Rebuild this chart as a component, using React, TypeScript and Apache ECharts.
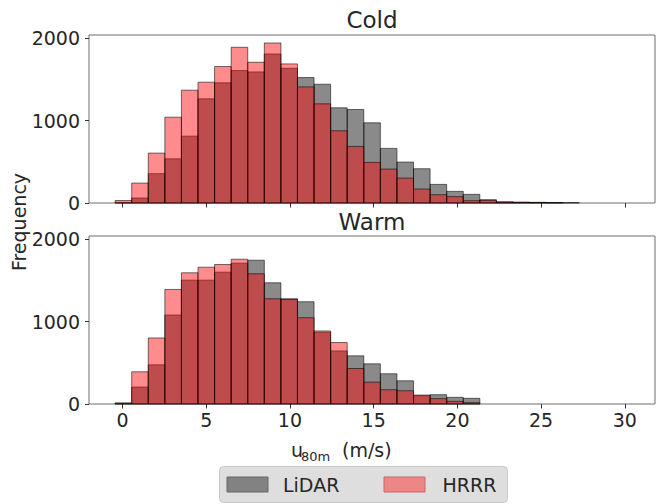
import { useEffect, useRef } from 'react';
import * as echarts from 'echarts';

// Histogram bins (m/s): left edge of first bin and bin width
const BIN_START = -0.44;
const BIN_WIDTH = 0.99;

// Counts per bin
const coldLidar = [5, 61, 356, 537, 812, 1265, 1459, 1608, 1592, 1810, 1636, 1523, 1442, 1156, 1135, 974, 663, 497, 416, 226, 141, 105, 40, 15, 10, 8, 6, 4];
const coldHrrr = [30, 242, 606, 1042, 1370, 1467, 1657, 1891, 1709, 1943, 1689, 1410, 1204, 877, 687, 493, 412, 303, 170, 101, 77, 28, 32, 10, 8, 6, 4];
const warmLidar = [10, 206, 476, 1081, 1504, 1504, 1601, 1710, 1746, 1472, 1278, 1242, 871, 645, 585, 488, 367, 282, 101, 113, 81, 69];
const warmHrrr = [12, 391, 802, 1391, 1593, 1661, 1694, 1758, 1581, 1278, 1270, 1048, 887, 746, 431, 266, 173, 161, 109, 65, 32, 16];

const xTicks = [0, 5, 10, 15, 20, 25, 30];
const yTicks = [0, 1000, 2000];
const panelTitles = ['Cold', 'Warm'];
const seriesNames = ['LiDAR', 'HRRR'];

const FONT = '"DejaVu Sans", sans-serif';
const TEXT = '#262626';
const LIDAR_FILL = 'rgba(0,0,0,0.46)';
const HRRR_FILL = 'rgba(255,0,0,0.45)';
const EDGE = 'rgba(0,0,0,0.55)';

function toBins(values: number[]) {
  return values.map((v, i) => [BIN_START + i * BIN_WIDTH, BIN_START + (i + 1) * BIN_WIDTH, v]);
}

function histSeries(name: string, values: number[], idx: number, fill: string) {
  return {
    type: 'custom',
    name,
    xAxisIndex: idx,
    yAxisIndex: idx,
    encode: { x: [0, 1], y: 2 },
    itemStyle: { color: fill },
    data: toBins(values),
    renderItem: (_params: any, api: any) => {
      const x0 = api.value(0);
      const x1 = api.value(1);
      const v = api.value(2);
      const p0 = api.coord([x0, v]);
      const p1 = api.coord([x1, 0]);
      return {
        type: 'rect',
        shape: { x: p0[0], y: p0[1], width: p1[0] - p0[0], height: p1[1] - p0[1] },
        style: { fill, stroke: EDGE, lineWidth: 1 },
      };
    },
  };
}

const GRID_LEFT = 89;
const GRID_WIDTH = 566;
const GRID_H = 168;
const GRID_TOPS = [35, 236];

function xAxis(idx: number, showLabels: boolean) {
  return {
    type: 'value',
    gridIndex: idx,
    min: -2,
    max: 31.8,
    axisLine: { show: false, onZero: false },
    splitLine: { show: false },
    axisTick: { show: true, length: 4.5, lineStyle: { color: '#333' }, customValues: xTicks },
    axisLabel: {
      show: showLabels,
      customValues: xTicks,
      fontSize: 19,
      fontFamily: FONT,
      color: TEXT,
      margin: 6,
      formatter: (v: number) => String(v),
    },
  };
}

function yAxis(idx: number) {
  return {
    type: 'value',
    gridIndex: idx,
    min: 0,
    max: 2040,
    interval: 1000,
    axisLine: { show: false, onZero: false },
    splitLine: { show: false },
    axisTick: { show: true, length: 4, lineStyle: { color: '#333' }, customValues: yTicks },
    axisLabel: {
      customValues: yTicks,
      fontSize: 19,
      fontFamily: FONT,
      color: TEXT,
      margin: 9,
      formatter: (v: number) => String(v),
    },
  };
}

function txt(text: string, x: number, y: number, fontSize: number, align = 'left', extra: any = {}) {
  return {
    type: 'text',
    x,
    y,
    ...extra,
    style: {
      text,
      fontSize,
      fontFamily: FONT,
      fill: TEXT,
      textAlign: align,
      textVerticalAlign: 'middle',
    },
  };
}

export default function App() {
  const ref = useRef<HTMLDivElement>(null);
  useEffect(() => {
    if (!ref.current) return;
    const chart = echarts.init(ref.current, null, { renderer: 'svg' });
    const option: any = {
      animation: false,
      backgroundColor: '#ffffff',
      grid: GRID_TOPS.map((top) => ({
        left: GRID_LEFT,
        top,
        width: GRID_WIDTH,
        height: GRID_H,
        show: true,
        borderColor: '#6e6e6e',
        borderWidth: 1,
        backgroundColor: 'transparent',
      })),
      xAxis: [xAxis(0, false), xAxis(1, true)],
      yAxis: [yAxis(0), yAxis(1)],
      series: [
        histSeries(seriesNames[0], coldLidar, 0, LIDAR_FILL),
        histSeries(seriesNames[1], coldHrrr, 0, HRRR_FILL),
        histSeries(seriesNames[0], warmLidar, 1, LIDAR_FILL),
        histSeries(seriesNames[1], warmHrrr, 1, HRRR_FILL),
      ],
      graphic: [
        txt(panelTitles[0], 372, 20.3, 23, 'center'),
        txt(panelTitles[1], 372, 222, 23, 'center'),
        txt('Frequency', 18.5, 222, 19, 'center', { rotation: Math.PI / 2 }),
        {
          type: 'text',
          x: 291,
          y: 437,
          style: {
            text: '{u|u}{b|80m}{a|(m/s)}',
            fontFamily: FONT,
            fill: TEXT,
            textAlign: 'left',
            textVerticalAlign: 'top',
            rich: {
              u: { fontSize: 19, lineHeight: 26, width: 10, fontFamily: FONT, fill: TEXT, verticalAlign: 'middle' },
              a: { fontSize: 19, lineHeight: 26, fontFamily: FONT, fill: TEXT, verticalAlign: 'middle' },
              b: { fontSize: 13, lineHeight: 13, width: 41, fontFamily: FONT, fill: TEXT, verticalAlign: 'bottom' },
            },
          },
        },
        {
          type: 'rect',
          shape: { x: 219.5, y: 466.5, width: 288, height: 36, r: 4 },
          style: { fill: '#dedede', stroke: '#c8c8c8', lineWidth: 1 },
        },
        {
          type: 'rect',
          shape: { x: 227, y: 477, width: 41, height: 15 },
          style: { fill: '#828282', stroke: '#666666', lineWidth: 1 },
        },
        {
          type: 'rect',
          shape: { x: 384, y: 477, width: 41, height: 15 },
          style: { fill: '#ee8686', stroke: '#c46a6a', lineWidth: 1 },
        },
        txt(seriesNames[0], 283, 485, 19),
        txt(seriesNames[1], 442.5, 485, 19),
      ],
    };
    chart.setOption(option);
    return () => chart.dispose();
  }, []);
  return (
    <div
      ref={ref}
      style={{ position: 'fixed', left: 0, top: 0, width: 663, height: 504 }}
    />
  );
}
